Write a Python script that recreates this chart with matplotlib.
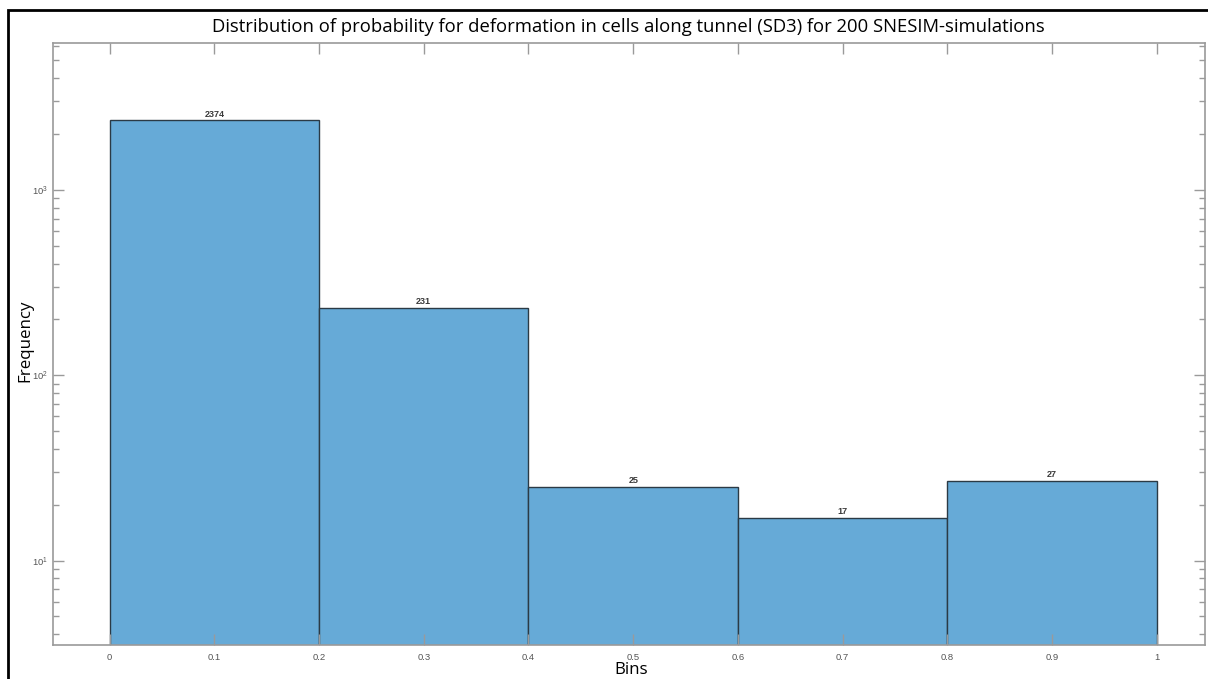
import numpy as np
import matplotlib.pyplot as plt
from matplotlib.patches import Rectangle
from matplotlib.ticker import LogLocator, NullFormatter

# histogram data
bin_edges = [0.0, 0.2, 0.4, 0.6, 0.8, 1.0]
counts = [2374, 231, 25, 17, 27]
xticks = [0, 0.1, 0.2, 0.3, 0.4, 0.5, 0.6, 0.7, 0.8, 0.9, 1]
xticklabels = ["0", "0.1", "0.2", "0.3", "0.4", "0.5", "0.6", "0.7", "0.8", "0.9", "1"]

bar_color = "#66aad7"
axis_color = "#9a9a9a"
tick_text = "#555555"

fig = plt.figure(figsize=(12.08, 6.79), dpi=100)
ax = fig.add_axes([53 / 1208, 1 - 645 / 679, (1205 - 53) / 1208, (645 - 43) / 679])

lefts = np.array(bin_edges[:-1])
widths = np.diff(bin_edges)
ax.bar(lefts, counts, width=widths, align="edge", color=bar_color,
       edgecolor="#2b3a45", linewidth=1.0)

for x, w, c in zip(lefts, widths, counts):
    ax.text(x + w / 2, c * 1.02, str(c), ha="center", va="bottom",
            fontsize=6.5, fontweight="bold", color="#3a3a3a", fontfamily="Liberation Sans")

ax.set_yscale("log")
ax.set_xlim(-0.054, 1.046)
ax.set_ylim(3.5, 6200)
ax.set_xticks(xticks)
ax.set_xticklabels(xticklabels)
ax.yaxis.set_major_locator(LogLocator(base=10, numticks=10))
ax.yaxis.set_minor_locator(LogLocator(base=10, subs=np.arange(2, 10), numticks=20))
ax.yaxis.set_minor_formatter(NullFormatter())

ax.tick_params(axis="both", which="both", direction="in", top=True, right=True,
               color=axis_color, labelcolor=tick_text, labelsize=6.8)
ax.tick_params(axis="both", which="major", length=8, width=1)
ax.tick_params(axis="both", which="minor", length=4, width=1)
ax.tick_params(axis="x", pad=6)
for lab in ax.get_xticklabels() + ax.get_yticklabels():
    lab.set_fontfamily("Liberation Sans")
for sp in ax.spines.values():
    sp.set_color(axis_color)
    sp.set_linewidth(1.2)

fig.text(628 / 1208, 1 - 27 / 679, "Distribution of probability for deformation in cells along tunnel (SD3) for 200 SNESIM-simulations",
         ha="center", va="center", fontsize=13.3, fontfamily="Open Sans", color="#000000")
fig.text(25 / 1208, 1 - 341 / 679, "Frequency", rotation=90, ha="center", va="center",
         fontsize=12.2, fontfamily="Open Sans", color="#000000")
fig.text(631 / 1208, 1 / 679, "Bins", ha="center", va="bottom",
         fontsize=12.2, fontfamily="Open Sans", color="#000000")

# black frame of the screenshot (cut off at right and bottom)
fig.patches.append(Rectangle((8 / 1208, -0.1), 1.2, 1 - 10 / 679 + 0.1, transform=fig.transFigure,
                             fill=False, edgecolor="black", linewidth=2))

fig.savefig("out.png", dpi=100)
